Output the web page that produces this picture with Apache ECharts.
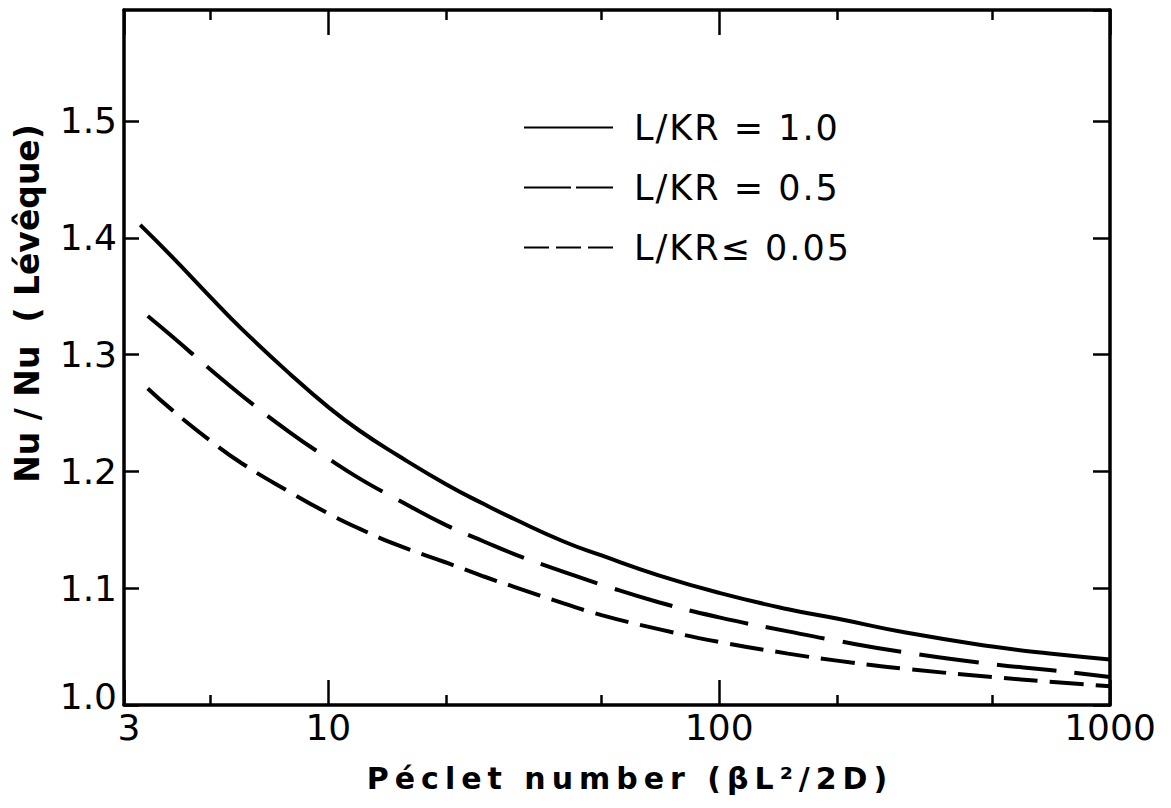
<!DOCTYPE html>
<html>
<head>
<meta charset="utf-8">
<script src="https://cdn.jsdelivr.net/npm/echarts@6/dist/echarts.min.js"></script>
<style>
html,body{margin:0;padding:0;background:#fff;}
#chart{width:1171px;height:808px;}
/* hand-lettered look of the original: wider letter spacing for some texts */
#chart svg text[style*="30px"]{letter-spacing:6px;}
#chart svg text[style*="35px"]{letter-spacing:2px;}
</style>
</head>
<body>
<div id="chart"></div>
<script>
// Péclet numbers (x) for each curve
var pecletSolid  = [3.3, 4, 5, 6, 8, 10, 12, 15, 20, 25, 30, 40, 50, 70, 100, 150, 200, 300, 500, 700, 1000];
var pecletDashed = [3.45, 4, 5, 6, 8, 10, 12, 15, 20, 25, 30, 40, 50, 70, 100, 150, 200, 300, 500, 700, 1000];
// Nu / Nu(Lévêque) values
var nuRatio10  = [1.411, 1.383, 1.349, 1.322, 1.283, 1.255, 1.235, 1.214, 1.189, 1.172, 1.159, 1.140, 1.128, 1.111, 1.096, 1.082, 1.074, 1.062, 1.050, 1.044, 1.039];
var nuRatio05  = [1.333, 1.315, 1.287, 1.265, 1.233, 1.211, 1.194, 1.176, 1.154, 1.140, 1.129, 1.114, 1.103, 1.088, 1.075, 1.063, 1.055, 1.045, 1.035, 1.030, 1.024];
var nuRatio005 = [1.271, 1.252, 1.226, 1.207, 1.182, 1.164, 1.151, 1.137, 1.122, 1.110, 1.101, 1.087, 1.077, 1.065, 1.054, 1.044, 1.038, 1.031, 1.024, 1.020, 1.016];
var seriesNames = ['L/KR = 1.0', 'L/KR = 0.5', 'L/KR\u2264 0.05'];
var xTickLabels = [3, 10, 100, 1000];
var xMinorTicks = [5, 20, 50, 200, 500];
var yTickLabels = ['1.0', '1.1', '1.2', '1.3', '1.4', '1.5'];

function pairs(xs, ys) { return xs.map(function (x, i) { return [x, ys[i]]; }); }

var FONT = 'DejaVu Sans';
var chart = echarts.init(document.getElementById('chart'), null, {renderer: 'svg'});
var lineAxis = {lineStyle: {color: '#000', width: 3.5}};
var tickStyle = {color: '#000', width: 2.5};
var labelFont = {fontFamily: FONT, fontSize: 36, color: '#000'};

var option = {
  backgroundColor: '#fff',
  animation: false,
  grid: {left: 124, right: 61, top: 10, bottom: 103},
  legend: {
    orient: 'vertical',
    left: 518, top: 105,
    itemWidth: 89, itemHeight: 14, itemGap: 25,
    itemStyle: {opacity: 0},
    textStyle: {fontFamily: FONT, fontSize: 35, color: '#000', lineHeight: 35, padding: [0, 0, 0, 16]},
    data: [
      {name: seriesNames[0], lineStyle: {type: 'solid'}},
      {name: seriesNames[1], lineStyle: {type: [47, 5]}},
      {name: seriesNames[2], lineStyle: {type: [25, 7]}}
    ]
  },
  xAxis: [
    { type: 'log', logBase: 10, min: 3, max: 1000, position: 'bottom',
      axisLine: lineAxis,
      axisTick: {inside: true, length: 25, lineStyle: tickStyle},
      splitLine: {show: false},
      axisLabel: {fontFamily: FONT, fontSize: 36, color: '#000', margin: 6, lineHeight: 32,
        rich: {first: {fontFamily: FONT, fontSize: 36, color: '#000', lineHeight: 32, padding: [0, 0, 0, 10]}},
        formatter: function (v) {
          var r = Math.round(v);
          if (xTickLabels.indexOf(r) < 0) return '';
          return r === xTickLabels[0] ? '{first|' + r + '}' : String(r);
        }},
      name: 'P\u00e9clet number (\u03b2L\u00b2/2D)', nameLocation: 'middle', nameGap: 58,
      nameTextStyle: {fontFamily: FONT, fontSize: 30, color: '#000', fontWeight: 'bold', padding: [0, 0, 0, 26]}
    },
    { type: 'log', logBase: 10, min: 3, max: 1000, position: 'top',
      axisLine: lineAxis,
      axisTick: {inside: true, length: 25, lineStyle: tickStyle},
      splitLine: {show: false}, axisLabel: {show: false}
    },
    { type: 'value', min: Math.log10(3), max: 3, position: 'bottom',
      axisLine: {show: false}, splitLine: {show: false}, axisLabel: {show: false},
      axisTick: {inside: true, length: 10, customValues: xMinorTicks.map(Math.log10), lineStyle: tickStyle}
    },
    { type: 'value', min: Math.log10(3), max: 3, position: 'top',
      axisLine: {show: false}, splitLine: {show: false}, axisLabel: {show: false},
      axisTick: {inside: true, length: 10, customValues: xMinorTicks.map(Math.log10), lineStyle: tickStyle}
    }
  ],
  yAxis: [
    { type: 'value', min: 1.0, max: 1.595, interval: 0.1, position: 'left',
      axisLine: lineAxis,
      axisTick: {inside: true, length: 15, lineStyle: tickStyle},
      splitLine: {show: false},
      axisLabel: {fontFamily: FONT, fontSize: 36, color: '#000', margin: 7, showMaxLabel: false, lineHeight: 32,
        rich: {low: {fontFamily: FONT, fontSize: 36, color: '#000', lineHeight: 32, padding: [0, 0, 18, 0]}},
        formatter: function (v) {
          var s = v.toFixed(1);
          if (yTickLabels.indexOf(s) < 0 || v > 1.55) return '';
          return s === yTickLabels[0] ? '{low|' + s + '}' : s;
        }},
      name: 'Nu / Nu  ( L\u00e9v\u00eaque)', nameLocation: 'middle', nameGap: 80, nameRotate: 90,
      nameTextStyle: {fontFamily: FONT, fontSize: 33, color: '#000', fontWeight: 'bold', padding: [0, 0, 0, 108]}
    },
    { type: 'value', min: 1.0, max: 1.595, interval: 0.1, position: 'right',
      axisLine: lineAxis,
      axisTick: {inside: true, length: 17, lineStyle: tickStyle},
      splitLine: {show: false}, axisLabel: {show: false}
    }
  ],
  series: [
    { name: seriesNames[0], type: 'line', xAxisIndex: 0, yAxisIndex: 0, smooth: true, showSymbol: false, symbol: 'none',
      lineStyle: {color: '#000', width: 4, type: 'solid'}, itemStyle: {color: '#000'},
      data: pairs(pecletSolid, nuRatio10) },
    { name: seriesNames[1], type: 'line', xAxisIndex: 0, yAxisIndex: 0, smooth: true, showSymbol: false, symbol: 'none',
      lineStyle: {color: '#000', width: 4, type: [60, 18]}, itemStyle: {color: '#000'},
      data: pairs(pecletDashed, nuRatio05) },
    { name: seriesNames[2], type: 'line', xAxisIndex: 0, yAxisIndex: 0, smooth: true, showSymbol: false, symbol: 'none',
      lineStyle: {color: '#000', width: 4, type: [34, 12]}, itemStyle: {color: '#000'},
      data: pairs(pecletDashed, nuRatio005) }
  ]
};
chart.setOption(option);
</script>
</body>
</html>
